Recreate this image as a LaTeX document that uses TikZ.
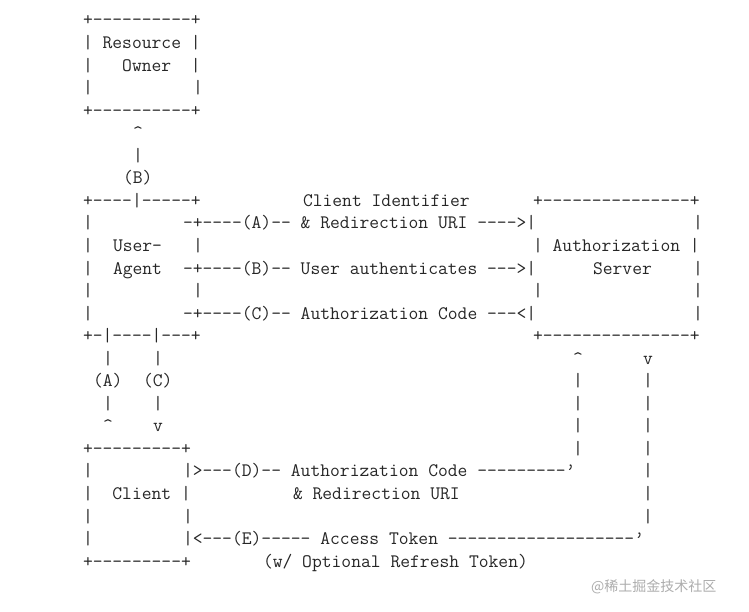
\documentclass[tikz,border=0pt]{standalone}
\usepackage{fontspec}
\newfontfamily\cjk{Noto Sans CJK SC}
\tikzset{
  tt/.style={font=\ttfamily\fontsize{19.05}{22}\selectfont, anchor=base west, inner sep=0pt, outer sep=0pt, text=black!85},
  wm/.style={font=\cjk\fontsize{14}{16}\selectfont, anchor=west, inner sep=0pt, text=black!32}
}
\newcommand\piece[4]{\node[tt] (#1) at ({83+10*#2},{612-(26+(#3-1)*22.55)}) {#4};}
\begin{document}
\begin{tikzpicture}[x=1pt,y=1pt]
\useasboundingbox[fill=white] (0,0) rectangle (749,612);
% Resource Owner
\piece{r1}{0}{1}{+----------+}
\piece{r2}{0}{2}{| Resource |}
\piece{r3}{0}{3}{|~~~Owner~~|}
\piece{r4a}{0}{4}{|}
\piece{r4b}{11}{4}{|}
\piece{r5}{0}{5}{+----------+}
\piece{r6}{5}{6}{\textasciicircum}
\piece{r7}{5}{7}{|}
\piece{r8}{4}{8}{(B)}
% User-Agent and Authorization Server
\piece{r9a}{0}{9}{+----|-----+}
\piece{r9b}{22}{9}{Client Identifier}
\piece{r9c}{45}{9}{+---------------+}
\piece{r10a}{0}{10}{|}
\piece{r10b}{10}{10}{-+----(A)-- \& Redirection URI ---->|}
\piece{r10c}{61}{10}{|}
\piece{r11a}{0}{11}{|}
\piece{r11b}{3}{11}{User-}
\piece{r11c}{11}{11}{|}
\piece{r11d}{45}{11}{| Authorization |}
\piece{r12a}{0}{12}{|}
\piece{r12b}{3}{12}{Agent}
\piece{r12c}{10}{12}{-+----(B)-- User authenticates --->|}
\piece{r12d}{51}{12}{Server}
\piece{r12e}{61}{12}{|}
\piece{r13a}{0}{13}{|}
\piece{r13b}{11}{13}{|}
\piece{r13c}{45}{13}{|}
\piece{r13d}{61}{13}{|}
\piece{r14a}{0}{14}{|}
\piece{r14b}{10}{14}{-+----(C)-- Authorization Code ---<|}
\piece{r14c}{61}{14}{|}
\piece{r15a}{0}{15}{+-|----|---+}
\piece{r15b}{45}{15}{+---------------+}
% links down to Client
\piece{r16a}{2}{16}{|}
\piece{r16b}{7}{16}{|}
\piece{r16c}{49}{16}{\textasciicircum}
\piece{r16d}{56}{16}{v}
\piece{r17a}{1}{17}{(A)}
\piece{r17b}{6}{17}{(C)}
\piece{r17c}{49}{17}{|}
\piece{r17d}{56}{17}{|}
\piece{r18a}{2}{18}{|}
\piece{r18b}{7}{18}{|}
\piece{r18c}{49}{18}{|}
\piece{r18d}{56}{18}{|}
\piece{r19a}{2}{19}{\textasciicircum}
\piece{r19b}{7}{19}{v}
\piece{r19c}{49}{19}{|}
\piece{r19d}{56}{19}{|}
% Client
\piece{r20a}{0}{20}{+---------+}
\piece{r20b}{49}{20}{|}
\piece{r20c}{56}{20}{|}
\piece{r21a}{0}{21}{|}
\piece{r21b}{10}{21}{|>---(D)-- Authorization Code ---------’}
\piece{r21c}{56}{21}{|}
\piece{r22a}{0}{22}{|~~Client~|}
\piece{r22b}{21}{22}{\& Redirection URI}
\piece{r22c}{56}{22}{|}
\piece{r23a}{0}{23}{|}
\piece{r23b}{10}{23}{|}
\piece{r23c}{56}{23}{|}
\piece{r24a}{0}{24}{|}
\piece{r24b}{10}{24}{|<---(E)----- Access Token -------------------’}
\piece{r25a}{0}{25}{+---------+}
\piece{r25b}{18}{25}{(w/ Optional Refresh Token)}
% watermark
\node[wm] (wmark) at (591,25) {@稀土掘金技术社区};
\end{tikzpicture}
\end{document}
